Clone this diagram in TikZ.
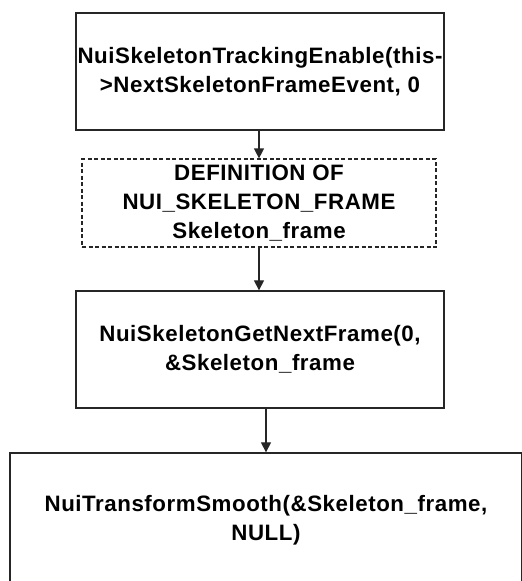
\documentclass[tikz,border=0pt]{standalone}
\usepackage{fontspec}
\setmainfont{Liberation Sans}[LetterSpace=2.5]
\usetikzlibrary{arrows.meta}
\begin{document}
\begin{tikzpicture}[x=1pt,y=-1pt,
  box/.style={draw=black!85,line width=1.3pt,rectangle,inner sep=0pt,align=center,
    font=\fontsize{22.3}{29}\selectfont\bfseries},
  dbox/.style={box,dash pattern=on 4pt off 2.5pt,line width=1.2pt},
  conn/.style={draw=black!85,line width=1.2pt,-{Triangle[length=10pt,width=10pt]}}]
\useasboundingbox (0,0) rectangle (522,581);
\clip (0,0) rectangle (522,581);
\node[box,minimum width=368pt,minimum height=117pt] (b1) at (260,71.5)
  {NuiSkeletonTrackingEnable(this-\\>NextSkeletonFrameEvent, 0};
\node[dbox,minimum width=354pt,minimum height=88pt] (b2) at (259,203)
  {DEFINITION OF\\NUI\_SKELETON\_FRAME\\Skeleton\_frame};
\node[box,minimum width=368pt,minimum height=117pt] (b3) at (260,349.5)
  {NuiSkeletonGetNextFrame(0,\\\&Skeleton\_frame};
\node[box,minimum width=512pt,minimum height=134pt] (b4) at (266,520)
  {NuiTransformSmooth(\&Skeleton\_frame,\\NULL)};
\draw[conn] (b1.south -| b2.north) -- (b2.north);
\draw[conn] (b2.south) -- (b3.north -| b2.south);
\draw[conn] (b3.south -| b4.north) -- (b4.north);
\end{tikzpicture}
\end{document}
